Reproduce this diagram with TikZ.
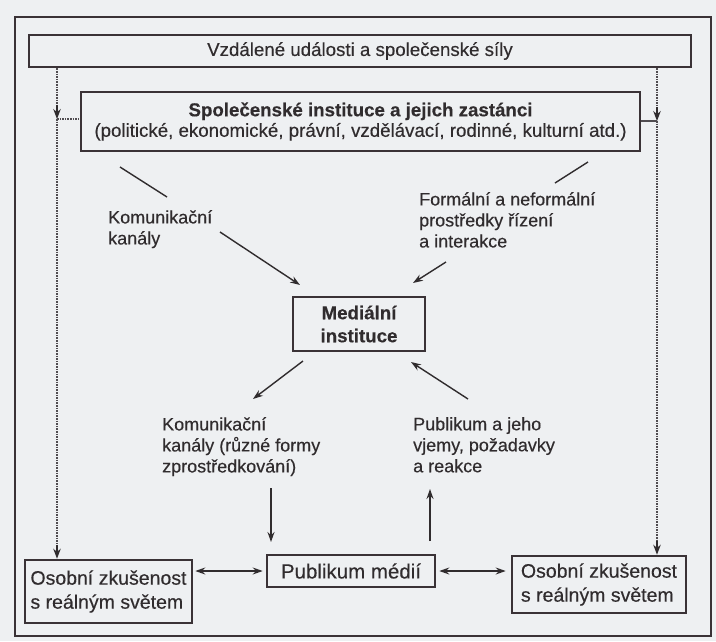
\documentclass[tikz,border=0pt]{standalone}
\usepackage{fontspec}
\setmainfont{Liberation Sans}[FakeBold=0.35]
\usetikzlibrary{arrows.meta}
\definecolor{bg}{RGB}{238,240,242}
\definecolor{ink}{RGB}{48,44,46}
\definecolor{framec}{RGB}{58,50,54}
\definecolor{dashc}{RGB}{80,76,80}
\begin{document}
\begin{tikzpicture}[x=1pt,y=-1pt,
  box/.style={draw=framec, line width=2.6pt, fill=bg, inner sep=0pt, text=ink, align=center},
  lbl/.style={inner sep=0pt, anchor=north west, align=left, text=ink, font=\fontsize{18}{21}\selectfont},
  arr/.style={draw=ink, line width=1.4pt, -{Stealth[length=10pt,width=7pt]}},
  darr/.style={draw=ink, line width=1.4pt, {Stealth[length=10pt,width=7pt]}-{Stealth[length=10pt,width=7pt]}},
  plain/.style={draw=ink, line width=1.4pt},
  dsh/.style={draw=dashc, line width=1.5pt, dash pattern=on 1.6pt off 1pt},
  tiponly/.style={draw=ink, line width=1.2pt, -{Stealth[length=10pt,width=7.5pt]}},
]
\fill[bg] (0,0) rectangle (716,641);
\useasboundingbox (0,0) rectangle (716,641);
\draw[framec, line width=2.8pt] (15,17) rectangle (711,636);

% boxes
\node[box, minimum width=662pt, minimum height=32pt, font=\fontsize{18.7}{22}\selectfont] (top) at (360,51) {Vzdálené události a společenské síly};
\node[box, minimum width=559pt, minimum height=59pt, font=\fontsize{18.7}{20.5}\selectfont] (inst) at (360.5,121.5)
  {{\bfseries Společenské instituce a jejich zastánci}\\(politické, ekonomické, právní, vzdělávací, rodinné, kulturní atd.)};
\node[box, minimum width=132pt, minimum height=54pt, font=\bfseries\fontsize{18.7}{23}\selectfont] (med) at (359,324) {Mediální\\instituce};
\node[box, minimum width=168pt, minimum height=32pt, font=\fontsize{20.5}{24}\selectfont] (pub) at (351,571) {Publikum médií};
\node[box, minimum width=167pt, minimum height=63pt, font=\fontsize{19.5}{24}\selectfont, align=left] (osL) at (108.5,591.5) {Osobní zkušenost\\s reálným světem};
\node[box, minimum width=174pt, minimum height=57pt, font=\fontsize{19.5}{24}\selectfont, align=left] (osR) at (599,584.5) {Osobní zkušenost\\s reálným světem};

% labels
\node[lbl] (komA) at (108,210) {Komunikační\\kanály};
\node[lbl] (formal) at (419,192) {Formální a neformální\\prostředky řízení\\a interakce};
\node[lbl] (komB) at (162,417) {Komunikační\\kanály (různé formy\\zprostředkování)};
\node[lbl] (publ) at (413,417) {Publikum a jeho\\vjemy, požadavky\\a reakce};

% free ends
\coordinate (la1) at (120,167); \coordinate (la2) at (167,197);
\coordinate (ra1) at (588,162); \coordinate (ra2) at (555,183);
\coordinate (a1s) at (220,232); \coordinate (a1e) at (300,285);
\coordinate (a2s) at (446,262); \coordinate (a2e) at (413,283);
\coordinate (a3s) at (303,361); \coordinate (a3e) at (253,399);
\coordinate (a4s) at (468,399); \coordinate (a4e) at (411,362);
\coordinate (a5s) at (271,488); \coordinate (a5e) at (271,542);
\coordinate (a6s) at (430,541); \coordinate (a6e) at (430,489);
\coordinate (jl) at (57,119);
\coordinate (jr) at (657,121);
\coordinate (bl) at (jl |- osL.north);
\coordinate (br) at (jr |- osR.north);

\draw[plain] (la1) -- (la2);
\draw[plain] (ra1) -- (ra2);
\draw[arr] (a1s) -- (a1e);
\draw[arr] (a2s) -- (a2e);
\draw[arr] (a3s) -- (a3e);
\draw[arr] (a4s) -- (a4e);
\draw[arr] (a5s) -- (a5e);
\draw[arr] (a6s) -- (a6e);
\draw[darr] ([xshift=2pt]osL.east |- pub.west) -- ([xshift=-3pt]pub.west);
\draw[darr] ([xshift=3pt]pub.east) -- ([xshift=-5pt]osR.west |- pub.east);

% dashed side paths
\draw[dsh] (top.south -| jl) -- ([yshift=12pt]jl);
\draw[tiponly] ([yshift=14pt]jl) -- (jl);
\draw[dsh] (jl) -- ([yshift=12pt]bl);
\draw[tiponly] ([yshift=14pt]bl) -- (bl);
\draw[dsh] (jl) -- (jl -| inst.west);
\draw[dsh] (top.south -| jr) -- ([yshift=12pt]jr);
\draw[tiponly] ([yshift=14pt]jr) -- (jr);
\draw[dsh] (jr) -- ([yshift=12pt]br);
\draw[tiponly] ([yshift=14pt]br) -- (br);
\draw[draw=dashc, line width=1.3pt] (jr) -- (jr -| inst.east);
\end{tikzpicture}
\end{document}
